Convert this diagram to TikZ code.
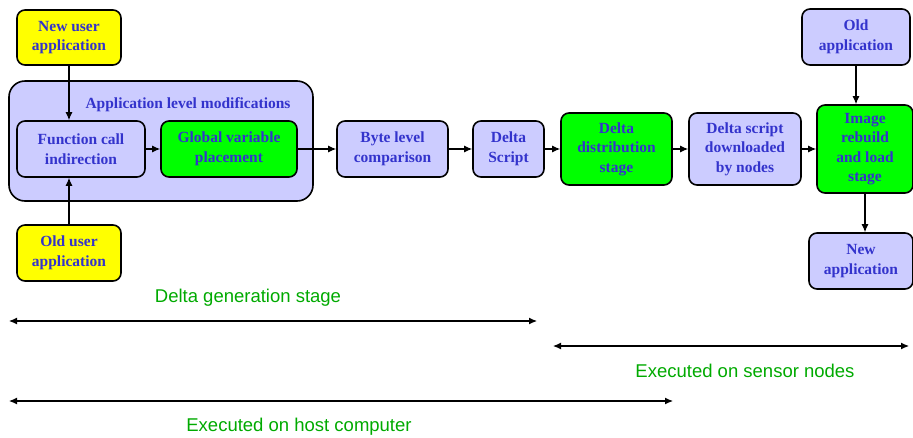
\documentclass[tikz,border=0pt]{standalone}
\usepackage{fontspec}
\setmainfont{Liberation Serif}
\newfontfamily\labelfont{Liberation Sans}
\usetikzlibrary{arrows.meta}
\definecolor{boxblue}{RGB}{204,204,255}
\definecolor{txtblue}{RGB}{51,51,204}
\definecolor{boxgreen}{RGB}{0,255,0}
\definecolor{boxyellow}{RGB}{255,255,0}
\definecolor{lblgreen}{RGB}{0,170,0}
\tikzset{
    stagebox/.style={draw,line width=1.6pt,rounded corners=8pt,fill=boxblue,text=txtblue,
        font=\fontsize{15.5}{19.5}\selectfont\bfseries,align=center,inner sep=0pt},
    greenbox/.style={stagebox,fill=boxgreen},
    userbox/.style={stagebox,fill=boxyellow},
    spanlabel/.style={text=lblgreen,font=\labelfont\fontsize{18.5}{22}\selectfont},
    tip/.style={>={Latex[length=8pt,width=7pt]},line width=1.1pt},
}

\begin{document}
\begin{tikzpicture}[x=1pt,y=-1pt]
\useasboundingbox (0,0) rectangle (913,437);
% group of application level steps
\node (group) at (161,141) [stagebox,rounded corners=16pt,minimum width=304pt,minimum height=120pt] {};
\node (grouptitle) at (188,105) [text=txtblue,font=\fontsize{15.5}{19.5}\selectfont\bfseries] {Application level modifications};

\node (newuser) at (69,37.5) [userbox,minimum width=104pt,minimum height=55pt] {New user\\application};
\node (funcall) at (81,149) [stagebox,minimum width=128pt,minimum height=56pt] {Function call\\indirection};
\node (globvar) at (229,149) [greenbox,minimum width=136pt,minimum height=56pt] {Global variable\\placement};
\node (olduser) at (69,253) [userbox,minimum width=104pt,minimum height=56pt] {Old user\\application};

\node (bytecmp) at (392.5,149) [stagebox,minimum width=111pt,minimum height=56pt] {Byte level\\comparison};
\node (script) at (508.5,149) [stagebox,minimum width=71pt,minimum height=56pt] {Delta\\Script};
\node (distrib) at (616.5,149) [greenbox,minimum width=111pt,minimum height=72pt] {Delta\\distribution\\stage};
\node (download) at (745,149) [stagebox,minimum width=112pt,minimum height=72pt] {Delta script\\downloaded\\by nodes};
\node (rebuild) at (865,149) [greenbox,minimum width=96pt,minimum height=88pt] {Image\\rebuild\\and load\\stage};
\node (oldapp) at (856,37) [stagebox,minimum width=108pt,minimum height=56pt] {Old\\application};
\node (newapp) at (861,261) [stagebox,minimum width=104pt,minimum height=56pt] {New\\application};

\draw[->,tip] (newuser.south) to (newuser.south |- funcall.north);
\draw[->,tip] (olduser.north) to (olduser.north |- funcall.south);
\draw[->,tip] (funcall.east) to (globvar.west);
\draw[->,tip] (globvar.east) to (bytecmp.west);
\draw[->,tip] (bytecmp.east) to (script.west);
\draw[->,tip] (script.east) to (distrib.west);
\draw[->,tip] (distrib.east) to (download.west);
\draw[->,tip] (download.east) to (rebuild.west);
\draw[->,tip] (oldapp.south) to (oldapp.south |- rebuild.north);
\draw[->,tip] (rebuild.south) to (rebuild.south |- newapp.north);

% spans
\coordinate (genL) at (9,321);
\coordinate (genR) at (537,321);
\node (genlabel) at (248,298) [spanlabel] {Delta generation stage};
\draw[<->,tip] (genL) to (genR);

\coordinate (sensorL) at (553,346);
\coordinate (sensorR) at (909,346);
\node (sensorlabel) at (745,371) [spanlabel] {Executed on sensor nodes};
\draw[<->,tip] (sensorL) to (sensorR);

\coordinate (hostL) at (9,401);
\coordinate (hostR) at (673,401);
\node (hostlabel) at (299,427) [spanlabel] {Executed on host computer};
\draw[<->,tip] (hostL) to (hostR);

\end{tikzpicture}
\end{document}
